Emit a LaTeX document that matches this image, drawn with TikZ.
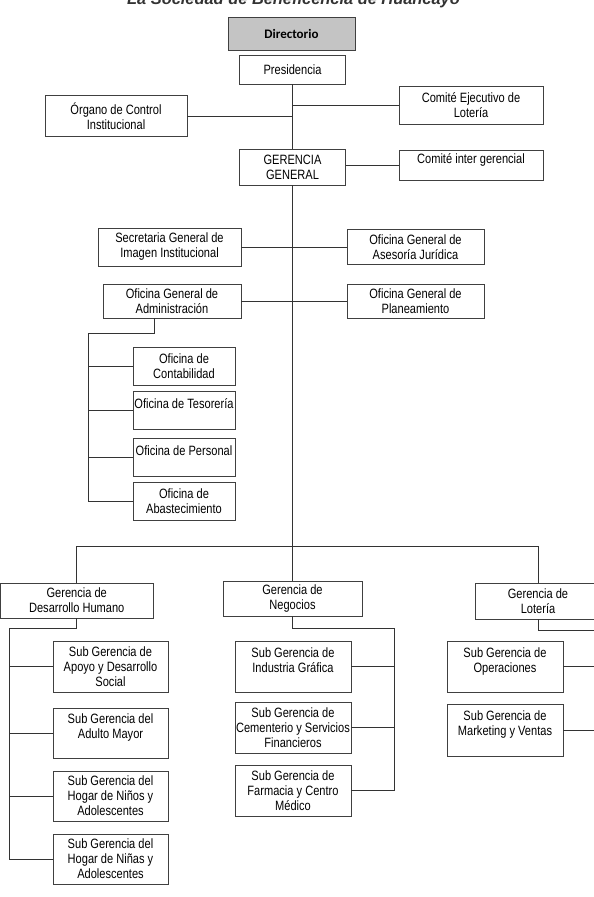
\documentclass[tikz,border=0pt]{standalone}
\usepackage{fontspec}
\setmainfont{Liberation Sans}[FakeStretch=0.82]
\newfontfamily\dirfont{Carlito}
\newfontfamily\titlefont{Liberation Sans}
\begin{document}
\begin{tikzpicture}[x=1pt,y=-1pt,
    caja/.style={draw=black!75,line width=0.8pt,fill=white,inner sep=0pt,align=center,font=\fontsize{13.5}{15}\selectfont},
    arriba/.style={text depth=13pt},
    linea/.style={draw=black!80,line width=0.8pt}]
        \useasboundingbox (0,0) rectangle (594,897);
        \node[anchor=base,text=black!80,font=\titlefont\bfseries\itshape\fontsize{16.4}{18}\selectfont] (tit) at (293.5,4) {La Sociedad de Beneficencia de Huancayo};
        \node[caja,fill=black!23,minimum width=127,minimum height=33,font=\dirfont\bfseries\fontsize{13}{15}\selectfont] (dir) at (291.5,33.5) {Directorio};
        \node[caja,minimum width=106,minimum height=29] (pres) at (292.5,69.5) {Presidencia};
        \node[caja,minimum width=142,minimum height=41] (oci) at (116,116) {Órgano de Control\\Institucional};
        \node[caja,minimum width=144,minimum height=38] (cel) at (471,105) {Comité Ejecutivo de\\Lotería};
        \node[caja,minimum width=106,minimum height=36] (gg) at (292.5,167) {GERENCIA\\GENERAL};
        \node[caja,arriba,minimum width=144,minimum height=30] (cig) at (471,165) {Comité inter gerencial};
        \node[caja,minimum width=143,minimum height=38] (sgii) at (169.5,247) {Secretaria General de\\Imagen Institucional};
        \node[caja,minimum width=137,minimum height=35] (ogaj) at (415.5,247) {Oficina General de\\Asesoría Jurídica};
        \node[caja,minimum width=138,minimum height=34] (oga) at (172,301) {Oficina General de\\Administración};
        \node[caja,minimum width=137,minimum height=34] (ogp) at (415.5,301) {Oficina General de\\Planeamiento};
        \node[caja,minimum width=102,minimum height=38] (ocon) at (184,366) {Oficina de\\Contabilidad};
        \node[caja,arriba,minimum width=102,minimum height=38] (otes) at (184,410) {Oficina de Tesorería};
        \node[caja,arriba,minimum width=102,minimum height=38] (oper) at (184,457) {Oficina de Personal};
        \node[caja,minimum width=102,minimum height=38] (oaba) at (184,501) {Oficina de\\Abastecimiento};
        \node[caja,minimum width=152.5,minimum height=35] (gdh) at (76.75,600.5) {Gerencia de\\Desarrollo Humano};
        \node[caja,minimum width=139,minimum height=35] (gneg) at (292.5,598.5) {Gerencia de\\Negocios};
        \node[caja,minimum width=126,minimum height=36] (glot) at (538,601) {Gerencia de\\Lotería};
        \node[caja,minimum width=115,minimum height=51] (sgads) at (110.5,666.5) {Sub Gerencia de\\Apoyo y Desarrollo\\Social};
        \node[caja,arriba,minimum width=115,minimum height=50] (sgam) at (110.5,733) {Sub Gerencia del\\Adulto Mayor};
        \node[caja,minimum width=115,minimum height=50] (sgnin) at (110.5,796) {Sub Gerencia del\\Hogar de Niños y\\Adolescentes};
        \node[caja,minimum width=115,minimum height=50] (sgnia) at (110.5,859) {Sub Gerencia del\\Hogar de Niñas y\\Adolescentes};
        \node[caja,arriba,minimum width=116,minimum height=51] (sgig) at (293,666.5) {Sub Gerencia de\\Industria Gráfica};
        \node[caja,minimum width=116,minimum height=51] (sgcsf) at (293,727.5) {Sub Gerencia de\\Cementerio y Servicios\\Financieros};
        \node[caja,minimum width=116,minimum height=51] (sgfcm) at (293,790.5) {Sub Gerencia de\\Farmacia y Centro\\Médico};
        \node[caja,arriba,minimum width=116,minimum height=51] (sgop) at (505,666.5) {Sub Gerencia de\\Operaciones};
        \node[caja,arriba,minimum width=116,minimum height=52] (sgmv) at (505,730) {Sub Gerencia de\\Marketing y Ventas};
        \coordinate (bar) at (292.5,546);
        \coordinate (adm) at (88,333);
        \coordinate (dh) at (9,628);
        \coordinate (neg) at (394,628);
        \coordinate (lot) at (602,630);
        \draw[linea] (pres) -- (gg);
        \draw[linea] (gg) -- (gneg);
        \draw[linea] (oci) -- (oci -| pres);
        \draw[linea] (cel) -- (cel -| pres);
        \draw[linea] (cig.west) -- (cig.west -| gg.east);
        \draw[linea] (sgii) -- (ogaj);
        \draw[linea] (oga) -- (ogp);
        \draw[linea] ([xshift=-18pt]oga.south) |- (adm) -- (adm |- oaba);
        \foreach \n in {ocon,otes,oper,oaba} \draw[linea] (adm |- \n) -- (\n.west);
        \draw[linea] (gdh.north) -- (gdh.north |- bar) -- (glot.north |- bar) -- (glot.north);
        \draw[linea] (gdh.south) |- (dh) -- (dh |- sgnia);
        \foreach \n in {sgads,sgam,sgnin,sgnia} \draw[linea] (dh |- \n) -- (\n.west);
        \draw[linea] (gneg.south) |- (neg) -- (neg |- sgfcm);
        \foreach \n in {sgig,sgcsf,sgfcm} \draw[linea] (neg |- \n) -- (\n.east);
        \draw[linea] (glot.south) |- (lot) -- (lot |- sgmv);
        \foreach \n in {sgop,sgmv} \draw[linea] (lot |- \n) -- (\n.east);
    \end{tikzpicture}
\end{document}
